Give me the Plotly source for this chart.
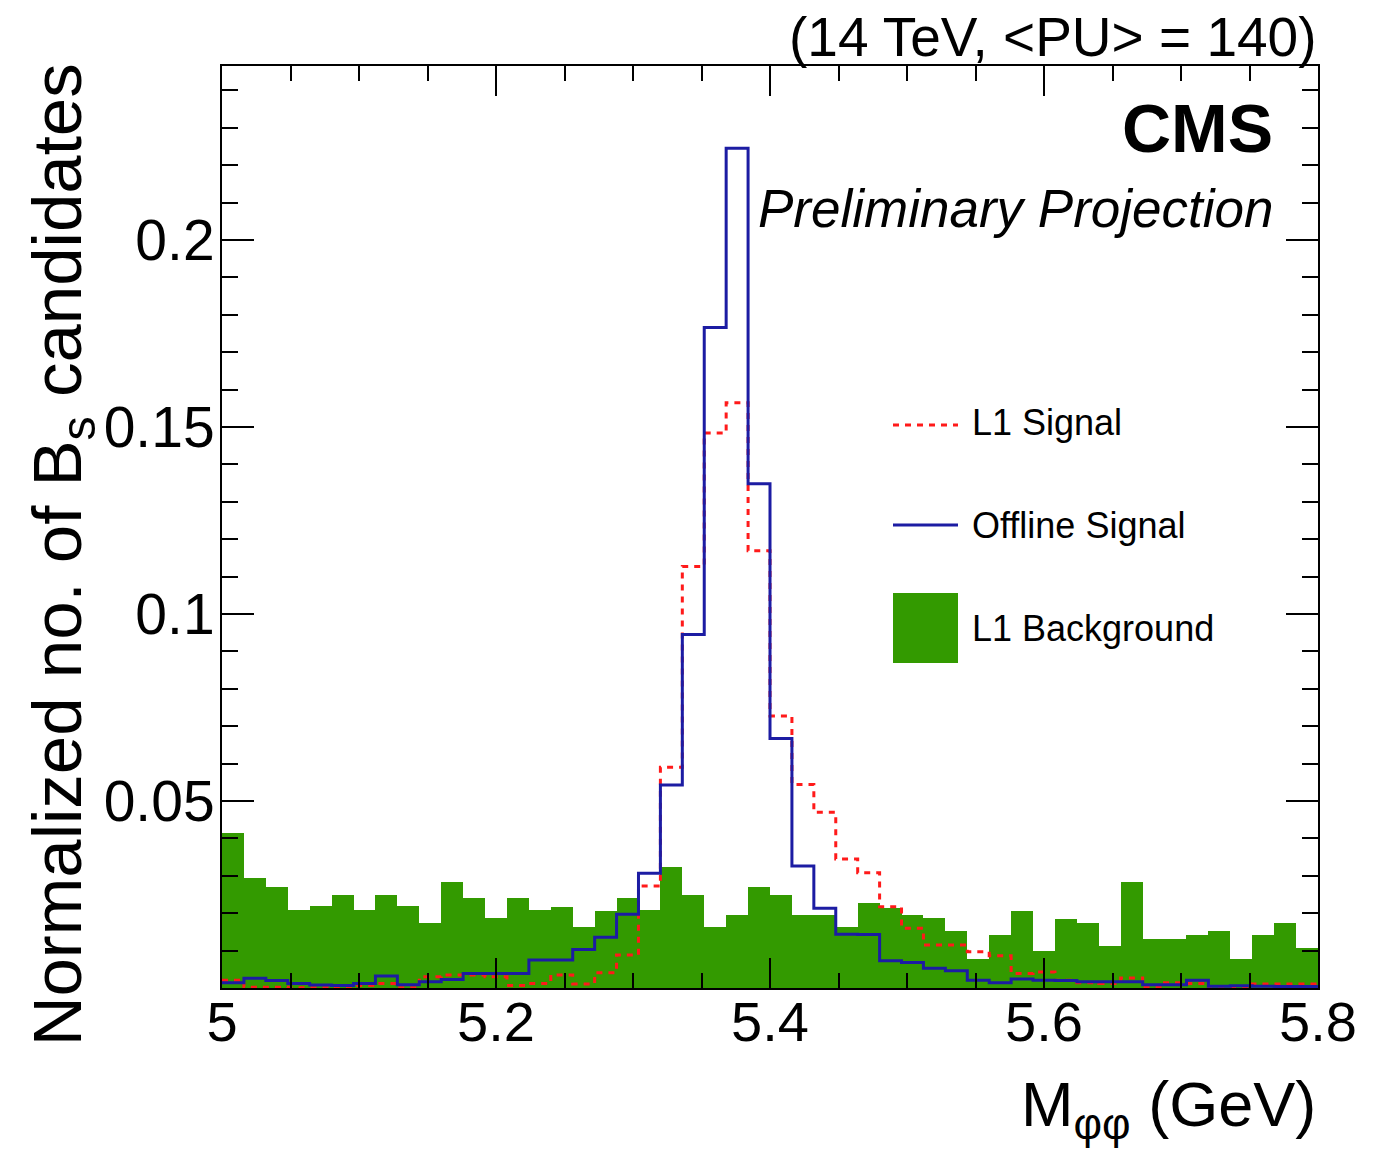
import plotly.graph_objects as go

# ---- data ----
bin_lo = 5.0
bin_width = 0.016
n_bins = 50

l1_background = [0.0414, 0.0293, 0.0271, 0.0209, 0.0219, 0.0249, 0.0209, 0.0249, 0.0219, 0.0175,
                 0.0284, 0.0240, 0.0186, 0.0240, 0.0209, 0.0217, 0.0164, 0.0207, 0.0240, 0.0209,
                 0.0324, 0.0249, 0.0164, 0.0195, 0.0271, 0.0249, 0.0195, 0.0195, 0.0164, 0.0228,
                 0.0213, 0.0195, 0.0186, 0.0152, 0.0077, 0.0142, 0.0207, 0.0099, 0.0184, 0.0175,
                 0.0111, 0.0284, 0.0130, 0.0130, 0.0142, 0.0153, 0.0077, 0.0142, 0.0175, 0.0108]

offline_signal = [0.0014, 0.0026, 0.0020, 0.0012, 0.0008, 0.0007, 0.0012, 0.0032, 0.0009, 0.0017,
                  0.0023, 0.0039, 0.0039, 0.0039, 0.0075, 0.0075, 0.0103, 0.0136, 0.0197, 0.0307,
                  0.0543, 0.0945, 0.1766, 0.2245, 0.1348, 0.0667, 0.0326, 0.0213, 0.0144, 0.0143,
                  0.0073, 0.0068, 0.0053, 0.0046, 0.0021, 0.0014, 0.0024, 0.0021, 0.0020, 0.0017,
                  0.0017, 0.0017, 0.0009, 0.0009, 0.0021, 0.0005, 0.0006, 0.0005, 0.0004, 0.0004]

l1_signal = [0.0021, 0.0002, 0.0002, 0.0001, 0.0001, 0.0003, 0.0007, 0.0012, 0.0001, 0.0030,
             0.0035, 0.0035, 0.0030, 0.0007, 0.0012, 0.0035, 0.0011, 0.0041, 0.0088, 0.0273,
             0.0590, 0.1127, 0.1484, 0.1565, 0.1169, 0.0727, 0.0544, 0.0470, 0.0345, 0.0308,
             0.0217, 0.0160, 0.0115, 0.0115, 0.0097, 0.0086, 0.0039, 0.0043, 0.0021, 0.0014,
             0.0012, 0.0027, 0.0002, 0.0014, 0.0012, 0.0001, 0.0001, 0.0011, 0.0011, 0.0011]

x_ticks = [5.0, 5.2, 5.4, 5.6, 5.8]
x_tick_labels = ["5", "5.2", "5.4", "5.6", "5.8"]
y_ticks = [0.0, 0.05, 0.1, 0.15, 0.2]
y_tick_labels = ["", "0.05", "0.1", "0.15", "0.2"]

# ---- derived ----
edges = [round(bin_lo + i * bin_width, 6) for i in range(n_bins + 1)]
centers = [round(bin_lo + (i + 0.5) * bin_width, 6) for i in range(n_bins)]

def step_xy(vals):
    return edges, list(vals) + [vals[-1]]

GREEN = "#339a00"
BLUE = "#1c1ca3"
RED = "#ff1a1a"
FONT = "Liberation Sans, Arial, Helvetica, sans-serif"

fig = go.Figure()
fig.add_trace(go.Bar(x=centers, y=l1_background, width=bin_width,
                     marker=dict(color=GREEN, line=dict(width=0)),
                     name="L1 Background", showlegend=False))
sx, sy = step_xy(l1_signal)
fig.add_trace(go.Scatter(x=sx, y=sy, mode="lines", line=dict(shape="hv", color=RED, width=3, dash="6px,6px"),
                         name="L1 Signal", showlegend=False))
ox, oy = step_xy(offline_signal)
fig.add_trace(go.Scatter(x=ox, y=oy, mode="lines", line=dict(shape="hv", color=BLUE, width=3),
                         name="Offline Signal", showlegend=False))

W, H = 1393, 1158
L, R, T, B = 222, 75, 66, 170

fig.update_layout(
    width=W, height=H,
    margin=dict(l=L, r=R, t=T, b=B, pad=0),
    paper_bgcolor="white", plot_bgcolor="white",
    bargap=0,
    font=dict(family=FONT, color="black"),
    xaxis=dict(range=[5.0, 5.8], tickmode="array", tickvals=x_ticks, ticktext=x_tick_labels,
               showgrid=False, zeroline=False, showline=True, linecolor="black", linewidth=2,
               mirror="allticks", ticks="inside", ticklen=30, tickwidth=2, tickcolor="black",
               minor=dict(tickmode="linear", tick0=5.0, dtick=0.05, ticks="inside", ticklen=15,
                          tickwidth=2, tickcolor="black", showgrid=False),
               tickfont=dict(size=56, family=FONT), ticklabelstandoff=-16),
    yaxis=dict(range=[0, 0.2465], tickmode="array", tickvals=y_ticks, ticktext=y_tick_labels,
               showgrid=False, zeroline=False, showline=True, linecolor="black", linewidth=2,
               mirror="allticks", ticks="inside", ticklen=32, tickwidth=2, tickcolor="black",
               minor=dict(tickmode="linear", tick0=0, dtick=0.01, ticks="inside", ticklen=16,
                          tickwidth=2, tickcolor="black", showgrid=False),
               tickfont=dict(size=57, family=FONT), ticklabelstandoff=-6),
)

def px_x(p):
    return (p - L) / (W - L - R)

def px_y(p):
    return (H - B - p) / (H - T - B)

annotations = [
    dict(text="(14 TeV, &lt;PU&gt; = 140)", x=1.0, y=px_y(37), xanchor="right", yanchor="middle",
         font=dict(size=55)),
    dict(text="<b>CMS</b>", x=px_x(1275), y=px_y(128), xanchor="right", yanchor="middle",
         font=dict(size=68)),
    dict(text="<i>Preliminary Projection</i>", x=px_x(1275), y=px_y(208), xanchor="right", yanchor="middle",
         font=dict(size=53)),
    dict(text="M<sub>φφ</sub> (GeV)", x=1.0, y=px_y(1108), xanchor="right", yanchor="middle",
         font=dict(size=63)),
    dict(text="Normalized no. of B<sub>s</sub> candidates", x=px_x(62), y=1.0045, xanchor="center",
         yanchor="top", textangle=-90, font=dict(size=69)),
    dict(text="L1 Signal", x=px_x(970), y=px_y(422), xanchor="left", yanchor="middle", font=dict(size=36)),
    dict(text="Offline Signal", x=px_x(970), y=px_y(525), xanchor="left", yanchor="middle", font=dict(size=36)),
    dict(text="L1 Background", x=px_x(970), y=px_y(628), xanchor="left", yanchor="middle", font=dict(size=36)),
]
for a in annotations:
    a.update(xref="paper", yref="paper", showarrow=False)
fig.update_layout(annotations=annotations)

fig.add_shape(type="line", xref="paper", yref="paper", x0=px_x(893), x1=px_x(958), y0=px_y(425), y1=px_y(425),
              line=dict(color=RED, width=3, dash="6px,6px"))
fig.add_shape(type="line", xref="paper", yref="paper", x0=px_x(893), x1=px_x(958), y0=px_y(525), y1=px_y(525),
              line=dict(color=BLUE, width=3))
fig.add_shape(type="rect", xref="paper", yref="paper", x0=px_x(893), x1=px_x(958), y0=px_y(663), y1=px_y(593),
              line=dict(width=0), fillcolor=GREEN)

fig.write_html("out.html")
